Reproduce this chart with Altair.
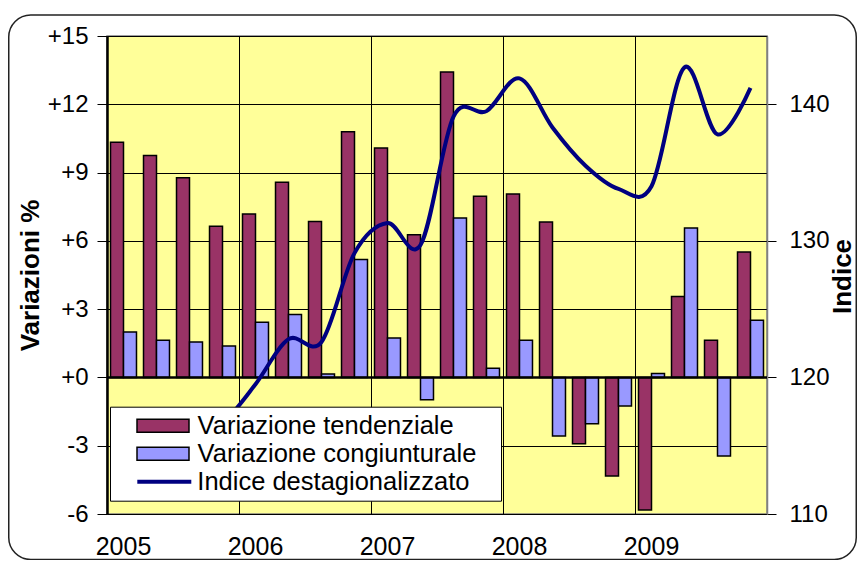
import altair as alt
import pandas as pd

# ---- data ----
trimestri = [
    "2005 T1", "2005 T2", "2005 T3", "2005 T4",
    "2006 T1", "2006 T2", "2006 T3", "2006 T4",
    "2007 T1", "2007 T2", "2007 T3", "2007 T4",
    "2008 T1", "2008 T2", "2008 T3", "2008 T4",
    "2009 T1", "2009 T2", "2009 T3", "2009 T4",
]
primi_trimestri = ["2005 T1", "2006 T1", "2007 T1", "2008 T1", "2009 T1"]

tendenziale = [10.33, 9.75, 8.77, 6.64, 7.18, 8.57, 6.85, 10.79, 10.08, 6.27,
               13.42, 7.96, 8.06, 6.83, -2.91, -4.33, -5.82, 3.56, 1.63, 5.51]
congiunturale = [2.00, 1.63, 1.56, 1.38, 2.42, 2.77, 0.15, 5.18, 1.73, -0.98,
                 7.00, 0.40, 1.63, -2.57, -2.03, -1.25, 0.17, 6.57, -3.45, 2.51]
indice = [111.5, 113.3, 115.0, 116.6, 119.5, 122.8, 122.6, 129.1, 131.3, 129.7,
          139.1, 139.5, 141.9, 138.3, 135.5, 133.8, 134.0, 142.7, 137.8, 141.2]

serie = ["Variazione tendenziale", "Variazione congiunturale", "Indice destagionalizzato"]
colori_barre = ["#993366", "#9999FF", "#FFFFFF"]
colore_linea = ["#000080"]
asse_sx = [-6, -3, 0, 3, 6, 9, 12, 15]
asse_dx = [110, 120, 130, 140]
linea_zero = [0]

bars_df = pd.DataFrame({
    "trimestre": trimestri * 2,
    "serie": [serie[0]] * len(trimestri) + [serie[1]] * len(trimestri),
    "valore": tendenziale + congiunturale,
})
line_df = pd.DataFrame({"trimestre": trimestri, "serie": serie[2], "indice": indice})
zero_df = pd.DataFrame({"zero": linea_zero})
frame_df = pd.DataFrame({"k": [0]})

FONT = "Liberation Sans"
x_scale = alt.Scale(domain=trimestri, paddingInner=0, paddingOuter=0)
x_axis = alt.Axis(values=primi_trimestri, bandPosition=0, labelOffset=0,
                  labelExpr="slice(datum.value, 0, 4)", ticks=False, domain=False,
                  grid=True, gridColor="black", gridWidth=1, labelAngle=0,
                  labelFontSize=25, labelPadding=20, labelColor="black", title=None)

frame = alt.Chart(frame_df).mark_rect(
    fill="transparent", stroke="#222222", strokeWidth=1.5, cornerRadius=22
).encode(x=alt.value(-98.25), x2=alt.value(749.25), y=alt.value(-21), y2=alt.value(523.5))

bars = alt.Chart(bars_df).mark_bar(stroke="black", strokeWidth=1.5).encode(
    x=alt.X("trimestre:N", scale=x_scale, axis=x_axis),
    xOffset=alt.XOffset("serie:N", scale=alt.Scale(domain=serie[:2], paddingInner=0, paddingOuter=0.27)),
    y=alt.Y("valore:Q", scale=alt.Scale(domain=[-6, 15], nice=False, zero=False),
            axis=alt.Axis(values=asse_sx,
                          labelExpr="(datum.value >= 0 ? '+' : '-') + abs(datum.value)",
                          title="Variazioni %", titleFontSize=26, titleFontWeight="bold",
                          titleAngle=270, titleX=-77, titleY=239, titleAlign="center",
                          titleBaseline="middle", titleColor="black",
                          grid=True, gridColor="black", gridWidth=1,
                          domainColor="black", domainWidth=2.5,
                          tickColor="black", tickSize=10, tickWidth=1,
                          labelFontSize=24, labelPadding=9, labelColor="black")),
    fill=alt.Fill("serie:N", scale=alt.Scale(domain=serie, range=colori_barre),
                  legend=alt.Legend(title=None, orient="none", legendX=3, legendY=370.7,
                                    direction="vertical", fillColor="white", strokeColor="black",
                                    padding=5, clipHeight=28, rowPadding=0,
                                    symbolType="M-1,-0.25L1,-0.25L1,0.25L-1,0.25Z",
                                    symbolSize=2704, symbolStrokeColor="black",
                                    symbolStrokeWidth=1.5, symbolOffset=21, symbolOpacity=1,
                                    labelOffset=7.6, labelFontSize=25.5, labelFont=FONT,
                                    labelColor="black", labelLimit=500, zindex=1,
                                    labelExpr="datum.value == 'Indice destagionalizzato' ? '' : datum.label + '\u2800'")),
)

zero = alt.Chart(zero_df).mark_rule(color="black", strokeWidth=2.5).encode(
    y=alt.Y("zero:Q")
)

line = alt.Chart(line_df).mark_line(strokeWidth=4, interpolate="cardinal").encode(
    x=alt.X("trimestre:N", scale=x_scale, axis=x_axis, bandPosition=0.5),
    y=alt.Y("indice:Q", scale=alt.Scale(domain=[110, 145], nice=False, zero=False),
            axis=alt.Axis(orient="right", values=asse_dx, grid=False,
                          title="Indice", titleFontSize=26, titleFontWeight="bold",
                          titleAngle=270, titleX=75, titleY=240, titleAlign="center",
                          titleBaseline="middle", titleColor="black",
                          domainColor="#808080", domainWidth=1.5,
                          tickColor="black", tickSize=9, tickWidth=1,
                          labelFontSize=24, labelPadding=13, labelColor="black")),
    stroke=alt.Stroke("serie:N", scale=alt.Scale(domain=[serie[2]], range=colore_linea),
                      legend=alt.Legend(title=None, orient="none", legendX=23, legendY=431.7,
                                        fillColor="white", padding=0, clipHeight=28,
                                        symbolType="stroke", symbolSize=2916,
                                        symbolStrokeWidth=4, symbolOffset=5.3,
                                        labelOffset=4, labelFontSize=25.5, labelFont=FONT,
                                        labelColor="black", labelLimit=500, zindex=2)),
)

chart = alt.layer(alt.layer(frame, bars, zero), line).resolve_scale(
    y="independent"
).properties(
    width=660, height=478,
    autosize=alt.AutoSizeParams(type="none"),
    padding={"left": 99, "top": 28, "right": 91, "bottom": 46},
    background="white",
).configure(font=FONT).configure_view(
    fill="#FFFF99", stroke="#808080", strokeWidth=1.5
)

chart.save("out.html", embed_options={"renderer": "svg", "actions": False})
